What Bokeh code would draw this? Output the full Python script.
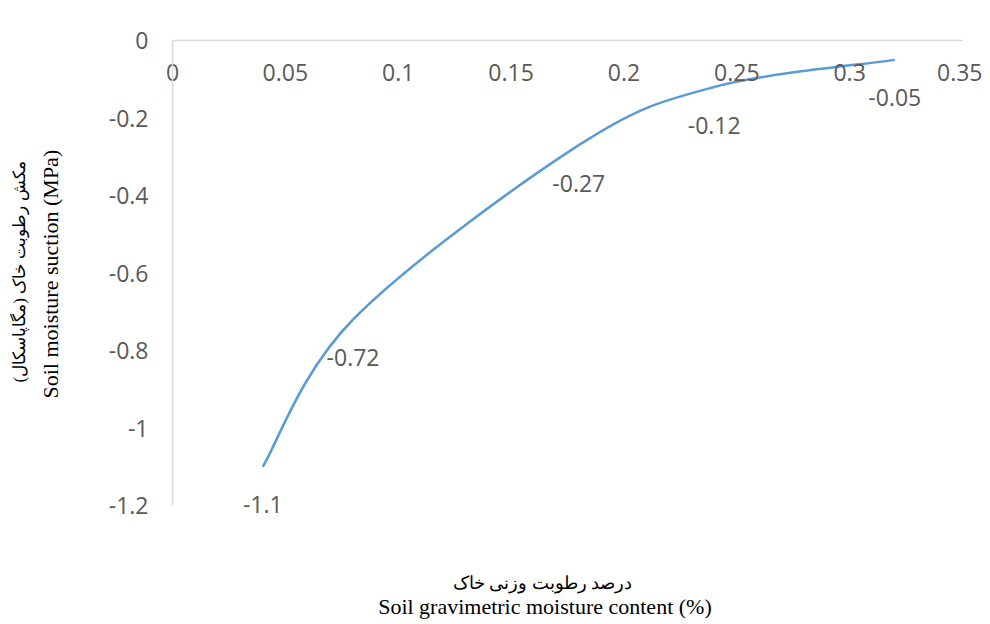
import math
from bokeh.plotting import figure
from bokeh.models import (FixedTicker, Range1d, ColumnDataSource,
                          LabelSet, Label, Title)
from bokeh.core.properties import value
from bokeh.embed import file_html
from bokeh.resources import INLINE

# ---- data ----
moisture = [0.04, 0.08, 0.18, 0.24, 0.32]
suction = [-1.1, -0.72, -0.27, -0.12, -0.05]
point_labels = ["-1.1", "-0.72", "-0.27", "-0.12", "-0.05"]

x_ticks = [0, 0.05, 0.1, 0.15, 0.2, 0.25, 0.3, 0.35]
x_tick_labels = ["0", "0.05", "0.1", "0.15", "0.2", "0.25", "0.3", "0.35"]
y_ticks = [0, -0.2, -0.4, -0.6, -0.8, -1.0, -1.2]
y_tick_labels = ["0", "-0.2", "-0.4", "-0.6", "-0.8", "-1", "-1.2"]

x_title_fa = "درصد رطوبت وزنی خاک"
x_title_en = "Soil gravimetric moisture content (%)"
y_title_fa = "مکش رطوبت خاک (مگاپاسکال)"
y_title_en = "Soil moisture suction (MPa)"

TICK_FONT = "Open Sans"
TICK_COLOR = "#595959"
SERIF = "Liberation Serif"
LINE_COLOR = "#5B9BD5"
AXIS_COLOR = "#D9D9D9"

# layout (pixels)
W, H = 982, 620
LEFT, TOP, RIGHT = 172, 40, 20
AXIS_H = 465  # pixel height from y=0 to y=-1.2
frame_h = H - TOP
y_min = -1.2 * frame_h / AXIS_H

p = figure(width=W, height=H, output_backend="svg", toolbar_location=None,
           x_range=Range1d(0, 0.35), y_range=Range1d(y_min, 0),
           x_axis_location="above", y_axis_location="left",
           min_border_left=LEFT, min_border_right=RIGHT,
           min_border_top=TOP, min_border_bottom=0)
p.outline_line_color = None
p.xgrid.visible = False
p.ygrid.visible = False
p.background_fill_color = "white"
p.border_fill_color = "white"

# y axis
ya = p.yaxis[0]
ya.bounds = (-1.2, 0)
ya.ticker = FixedTicker(ticks=y_ticks)
ya.major_label_overrides = {t: l for t, l in zip(y_ticks, y_tick_labels)}
ya.major_tick_out = 0
ya.major_tick_in = 0
ya.minor_tick_out = 0
ya.minor_tick_in = 0
ya.axis_line_color = AXIS_COLOR
ya.axis_line_width = 1.5
ya.major_label_text_font = TICK_FONT
ya.major_label_text_font_size = "23px"
ya.major_label_text_color = TICK_COLOR
ya.major_label_standoff = 24
# blank axis label used only as spacing between tick labels and the titles
ya.axis_label = " "
ya.axis_label_text_font_size = "1px"
ya.axis_label_standoff = 36

# x axis along y = 0 at the top, labels below the line
xa = p.xaxis[0]
xa.ticker = FixedTicker(ticks=x_ticks)
xa.major_label_overrides = {t: l for t, l in zip(x_ticks, x_tick_labels)}
xa.major_tick_out = 0
xa.major_tick_in = 0
xa.minor_tick_out = 0
xa.minor_tick_in = 0
xa.axis_line_color = AXIS_COLOR
xa.axis_line_width = 1.5
xa.major_label_text_font = TICK_FONT
xa.major_label_text_font_size = "23px"
xa.major_label_text_color = TICK_COLOR
xa.major_label_standoff = -40

# y axis titles (English next to the axis, Persian outside it)
p.add_layout(Title(text=y_title_en, align="left", offset=H - 398,
                   vertical_align="bottom",
                   text_font=SERIF, text_font_size="22px",
                   text_font_style="normal", text_color="black",
                   standoff=6), "left")
p.add_layout(Title(text=y_title_fa, align="left", offset=H - 382,
                   vertical_align="bottom",
                   text_font=SERIF, text_font_size="17px",
                   text_font_style="normal", text_color="black",
                   standoff=8), "left")

# smoothed curve through the points (Catmull-Rom as cubic Bezier segments)
n = len(moisture)
xs = [moisture[0]] + moisture + [moisture[-1]]
ys = [suction[0]] + suction + [suction[-1]]
seg = dict(x0=[], y0=[], x1=[], y1=[], cx0=[], cy0=[], cx1=[], cy1=[])
for i in range(n - 1):
    j = i + 1
    seg["x0"].append(xs[j]); seg["y0"].append(ys[j])
    seg["x1"].append(xs[j + 1]); seg["y1"].append(ys[j + 1])
    seg["cx0"].append(xs[j] + (xs[j + 1] - xs[j - 1]) / 6)
    seg["cy0"].append(ys[j] + (ys[j + 1] - ys[j - 1]) / 6)
    seg["cx1"].append(xs[j + 1] - (xs[j + 2] - xs[j]) / 6)
    seg["cy1"].append(ys[j + 1] - (ys[j + 2] - ys[j]) / 6)
p.bezier(x0="x0", y0="y0", x1="x1", y1="y1", cx0="cx0", cy0="cy0",
         cx1="cx1", cy1="cy1", source=ColumnDataSource(seg),
         line_color=LINE_COLOR, line_width=2.5)

# data labels below each point
src = ColumnDataSource(dict(x=moisture, y=suction, t=point_labels))
p.add_layout(LabelSet(x="x", y="y", text="t", source=src,
                      y_offset=-38, text_align="center", text_baseline="middle",
                      text_font=value(TICK_FONT), text_font_size=value("23px"),
                      text_color=TICK_COLOR))

# x axis titles
p.add_layout(Label(x=0.164, y=-1.2, text=x_title_fa, y_offset=-77,
                   text_align="center", text_baseline="middle",
                   text_font=SERIF, text_font_size="17.5px", text_color="black"))
p.add_layout(Label(x=0.165, y=-1.2, text=x_title_en, y_offset=-101,
                   text_align="center", text_baseline="middle",
                   text_font=SERIF, text_font_size="22px", text_color="black"))

open("out.html", "w").write(file_html(p, INLINE))
